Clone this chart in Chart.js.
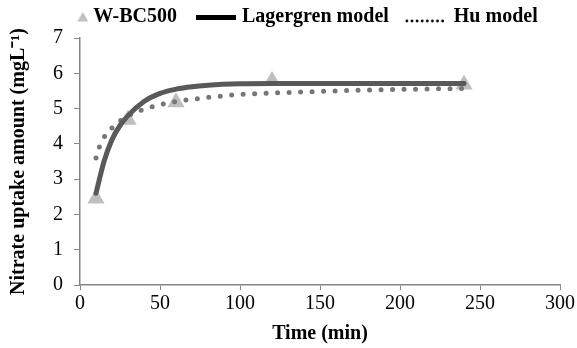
<!DOCTYPE html>
<html>
<head>
<meta charset="utf-8">
<script src="https://cdn.jsdelivr.net/npm/chart.js@4/dist/chart.umd.min.js"></script>
<style>
  html, body { margin: 0; padding: 0; background: #fff; }
  #wrap { width: 577px; height: 348px; }
</style>
</head>
<body>
<div id="wrap"><canvas id="kinetics"></canvas></div>
<script>
// measured uptake, W-BC500
const obsTime = [10, 30, 60, 120, 240];
const obsUptake = [2.45, 4.68, 5.18, 5.78, 5.68];

// Lagergren fit
const lagTime = [10, 15, 20, 25, 30, 40, 50, 60, 70, 80, 100, 120, 160, 200, 240];
const lagUptake = [2.6, 3.5, 4.12, 4.52, 4.8, 5.2, 5.43, 5.55, 5.62, 5.66, 5.7, 5.71, 5.71, 5.71, 5.71];

// Hu fit
const huTime = [10, 12, 15, 20, 25, 30, 40, 50, 60, 75, 100, 140, 175, 210, 240];
const huUptake = [3.6, 3.9, 4.18, 4.45, 4.65, 4.8, 4.98, 5.11, 5.2, 5.29, 5.4, 5.47, 5.52, 5.55, 5.57];

const xTicks = [0, 50, 100, 150, 200, 250, 300];

function toPoints(xs, ys) {
    return xs.map((x, i) => ({ x: x, y: ys[i] }));
}

const serif = "'Liberation Serif', 'Times New Roman', serif";
const axisGray = "#868686";

// legend swatches as images; they are drawn centred on the 40px box,
// so wider canvases let a swatch sit off-centre
function swatch(width, draw) {
    const c = document.createElement("canvas");
    c.width = width;
    c.height = 14;
    draw(c.getContext("2d"));
    return c;
}
const triangleSwatch = swatch(50, (ctx) => {
    ctx.fillStyle = "#bfbfbf";
    ctx.beginPath();
    ctx.moveTo(44.5, 2);
    ctx.lineTo(50, 11.5);
    ctx.lineTo(39, 11.5);
    ctx.closePath();
    ctx.fill();
});
const lineSwatch = swatch(48, (ctx) => {
    ctx.fillStyle = "#000";
    ctx.fillRect(8, 5, 40, 5);
});
const dotSwatch = swatch(48, (ctx) => {
    ctx.fillStyle = "#000";
    for (let i = 0; i < 8; i++) {
        ctx.beginPath();
        ctx.arc(7 + i * 5.1, 11, 1.4, 0, Math.PI * 2);
        ctx.fill();
    }
});
const legendSwatches = [triangleSwatch, lineSwatch, dotSwatch];

// fixed legend band so the plot starts where the original does
const legendBand = {
    id: "legendBand",
    beforeInit(chart) {
        const fit = chart.legend.fit;
        chart.legend.fit = function () {
            fit.bind(chart.legend)();
            this.height = 38;
        };
    },
    afterLayout(chart) {
        const lg = chart.legend;
        lg.left += 10;
        lg.right += 10;
        lg.top -= 8;
        lg.bottom -= 8;
    },
};

new Chart(document.getElementById("kinetics"), {
    type: "scatter",
    data: {
        datasets: [
            {
                label: "W-BC500",
                data: toPoints(obsTime, obsUptake),
                pointStyle: "triangle",
                pointRadius: 10,
                pointHoverRadius: 10,
                backgroundColor: "#bfbfbf",
                borderColor: "#bfbfbf",
                borderWidth: 0,
                showLine: false,
                order: 2,
            },
            {
                label: "Lagergren model",
                data: toPoints(lagTime, lagUptake),
                showLine: true,
                borderColor: "#595959",
                backgroundColor: "#595959",
                borderWidth: 5,
                borderCapStyle: "round",
                pointRadius: 0,
                cubicInterpolationMode: "monotone",
                order: 0,
            },
            {
                label: "Hu model",
                data: toPoints(huTime, huUptake),
                showLine: true,
                borderColor: "#767676",
                backgroundColor: "#767676",
                borderWidth: 5,
                borderDash: [0, 11.5],
                borderCapStyle: "round",
                pointRadius: 0,
                cubicInterpolationMode: "monotone",
                order: 1,
            },
        ],
    },
    options: {
        responsive: true,
        maintainAspectRatio: false,
        animation: false,
        layout: { padding: { left: 0, right: 16, top: 0, bottom: 0 } },
        plugins: {
            tooltip: { enabled: false },
            legend: {
                position: "top",
                labels: {
                    usePointStyle: true,
                    pointStyleWidth: 40,
                    boxHeight: 14,
                    padding: 15,
                    color: "#000",
                    font: { family: serif, size: 20, weight: "bold" },
                    generateLabels(chart) {
                        return chart.data.datasets.map((ds, i) => ({
                            text: ds.label,
                            datasetIndex: i,
                            pointStyle: legendSwatches[i],
                            fillStyle: "#000",
                            strokeStyle: "#000",
                            lineWidth: 0,
                            fontColor: "#000",
                            hidden: false,
                        }));
                    },
                },
            },
        },
        scales: {
            x: {
                type: "linear",
                min: 0,
                max: 300,
                afterBuildTicks(scale) {
                    scale.ticks = xTicks.map((v) => ({ value: v }));
                },
                grid: { drawOnChartArea: false, drawTicks: true, tickLength: 5, color: axisGray },
                border: { color: axisGray, width: 1.5 },
                ticks: { color: "#000", padding: 2, font: { family: serif, size: 20 } },
                title: {
                    display: true,
                    text: "Time (min)",
                    color: "#000",
                    padding: { top: 0, bottom: 2 },
                    font: { family: serif, size: 20, weight: "bold" },
                },
                afterFit(scale) {
                    scale.height = 63;
                },
            },
            y: {
                min: 0,
                max: 7,
                ticks: { stepSize: 1, color: "#000", padding: 11, font: { family: serif, size: 20 } },
                grid: { drawOnChartArea: false, drawTicks: true, tickLength: 6, color: axisGray },
                border: { color: axisGray, width: 1.5 },
                title: {
                    display: true,
                    text: "Nitrate uptake amount (mgL\u207B\u00B9)",
                    color: "#000",
                    padding: { top: 7, bottom: 0 },
                    font: { family: serif, size: 20, weight: "bold" },
                },
                afterFit(scale) {
                    scale.width = 80;
                },
            },
        },
    },
    plugins: [legendBand],
});
</script>
</body>
</html>
